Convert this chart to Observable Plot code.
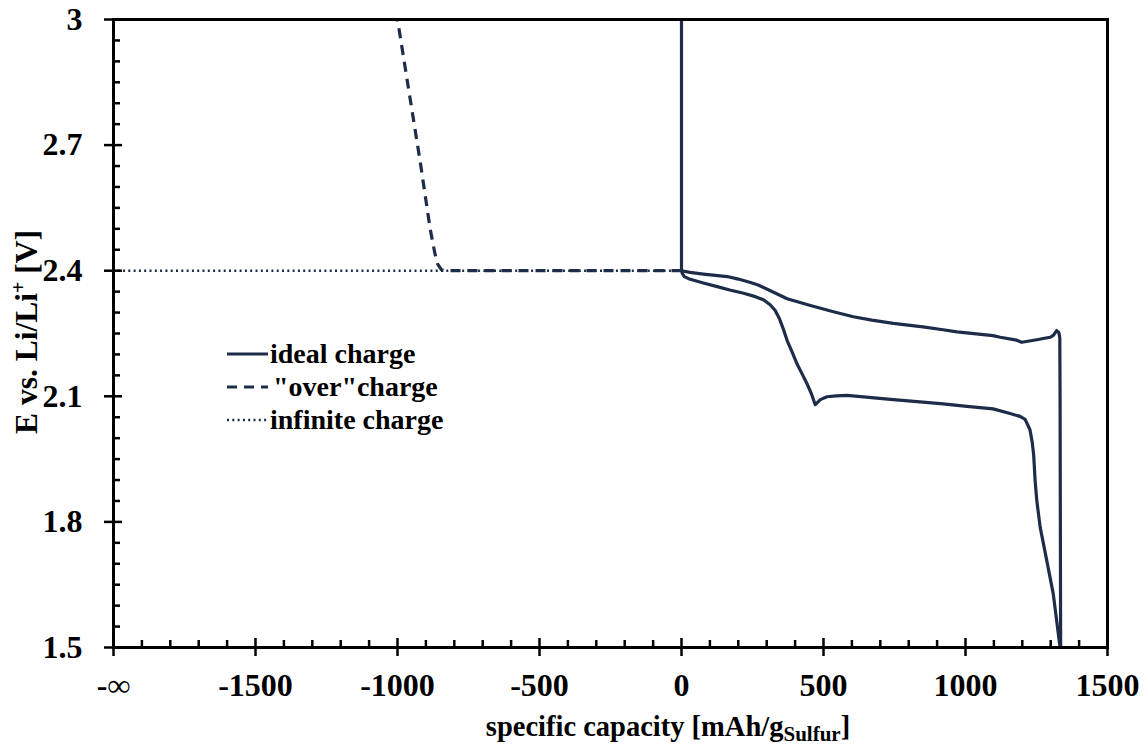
<!DOCTYPE html>
<html>
<head>
<meta charset="utf-8">
<script src="https://cdn.jsdelivr.net/npm/d3@7"></script>
<script src="https://cdn.jsdelivr.net/npm/@observablehq/plot@0.6"></script>
<style>
  html, body { margin: 0; padding: 0; background: #fff; }
  #chart { width: 1148px; height: 746px; }
  #chart svg text { font-family: "Liberation Serif", "Times New Roman", serif !important; font-weight: bold !important; }
</style>
</head>
<body>
<div id="chart"></div>
<script>
// Li–S cell: one discharge/charge cycle and two hypothetical charge continuations.

// discharge branch of the measured cycle (capacity in mAh/g_S, potential in V)
const dischargeCap = [0, 3, 10, 25, 43, 80, 126, 170, 219, 260, 290, 313, 330, 345, 360, 372, 390, 407, 425, 442, 458, 471, 480, 489, 512, 545, 583, 650, 746, 850, 921, 1005, 1097, 1157, 1192, 1210, 1227, 1235, 1240, 1245, 1251, 1263, 1286, 1309, 1333];
const dischargeE   = [2.400, 2.393, 2.386, 2.381, 2.377, 2.370, 2.362, 2.354, 2.346, 2.338, 2.330, 2.318, 2.305, 2.285, 2.258, 2.233, 2.205, 2.177, 2.153, 2.130, 2.105, 2.080, 2.086, 2.092, 2.099, 2.101, 2.102, 2.098, 2.092, 2.086, 2.082, 2.076, 2.070, 2.059, 2.052, 2.045, 2.020, 1.990, 1.960, 1.900, 1.851, 1.787, 1.708, 1.628, 1.500];

// charge branch, running back from full discharge to zero capacity and up to 3 V
const chargeCap = [1335, 1334, 1333, 1332, 1329, 1321, 1310, 1298, 1274, 1251, 1225, 1198, 1180, 1122, 1097, 970, 921, 850, 746, 670, 605, 535, 454, 372, 313, 270, 243, 200, 161, 77, 30, 0, 0];
const chargeE   = [1.500, 1.800, 2.100, 2.240, 2.252, 2.257, 2.246, 2.241, 2.238, 2.235, 2.232, 2.229, 2.234, 2.241, 2.245, 2.254, 2.259, 2.266, 2.274, 2.282, 2.290, 2.302, 2.317, 2.333, 2.352, 2.366, 2.372, 2.380, 2.386, 2.392, 2.396, 2.400, 3.000];

// "over"charge: the 2.4 V plateau continues past zero, then the potential rises to 3 V
const overCap = [0, -820, -845, -858, -868, -885, -920, -960, -1000];
const overE   = [2.400, 2.400, 2.402, 2.415, 2.440, 2.500, 2.660, 2.830, 3.000];

// infinite charge: the plateau never ends
const infiniteCap = [0, -2000];
const infiniteE   = [2.400, 2.400];

// axes
const xMajor = [-2000, -1500, -1000, -500, 0, 500, 1000, 1500];
const xLabels = ["-∞", "-1500", "-1000", "-500", "0", "500", "1000", "1500"];
const yMajor = [1.5, 1.8, 2.1, 2.4, 2.7, 3];
const yLabels = ["1.5", "1.8", "2.1", "2.4", "2.7", "3"];
const xMinor = d3.range(-2000, 1501, 100).filter(v => !xMajor.includes(v));
const yMinor = d3.range(0, 31).map(i => 1.5 + i * 0.05).filter(v => !yMajor.some(m => Math.abs(m - v) < 1e-9));

const legendItems = ["ideal charge", "\"over\"charge", "infinite charge"];

const ink = "#1d2c49";
const toRows = (xs, ys) => xs.map((x, i) => ({x, y: ys[i]}));
const ideal = toRows(dischargeCap, dischargeE).concat(toRows(chargeCap, chargeE));
const over = toRows(overCap, overE);
const infinite = toRows(infiniteCap, infiniteE);

const W = 1148, H = 746;
const mL = 113, mR = 41, mT = 19, mB = 99;
const fw = W - mL - mR, fh = H - mT - mB;
const major = 9, minor = 7;
const xLabelOf = new Map(xMajor.map((v, i) => [v, xLabels[i]]));
const yLabelOf = new Map(yMajor.map((v, i) => [v, yLabels[i]]));

const plot = Plot.plot({
  width: W,
  height: H,
  marginLeft: mL,
  marginRight: mR,
  marginTop: mT,
  marginBottom: mB,
  style: {fontFamily: "Liberation Serif", fontWeight: "bold", fontSize: "32px", background: "#fff", color: "#000", overflow: "visible"},
  x: {domain: [-2000, 1500]},
  y: {domain: [1.5, 3]},
  marks: [
    Plot.line(infinite, {x: "x", y: "y", stroke: ink, strokeWidth: 2.4, strokeDasharray: "2,3.3", strokeLinecap: "butt"}),
    Plot.line(over, {x: "x", y: "y", stroke: ink, strokeWidth: 3.2, strokeDasharray: "10,7", strokeLinecap: "butt"}),
    Plot.line(ideal, {x: "x", y: "y", stroke: ink, strokeWidth: 3.2, strokeLinejoin: "round"}),
    // inward minor ticks and crossing major ticks
    Plot.tickX(xMinor, {x: d => d, insetTop: fh - minor, stroke: "#000", strokeWidth: 2.5}),
    Plot.tickX(xMajor, {x: d => d, insetTop: fh - major, insetBottom: -major, stroke: "#000", strokeWidth: 2.5}),
    Plot.tickY(yMinor, {y: d => d, insetRight: fw - minor, stroke: "#000", strokeWidth: 2.5}),
    Plot.tickY(yMajor, {y: d => d, insetRight: fw - major, insetLeft: -major, stroke: "#000", strokeWidth: 2.5}),
    Plot.frame({stroke: "#000", strokeWidth: 3}),
    Plot.axisX(xMajor, {tickSize: 0, tickPadding: 26, tickFormat: d => xLabelOf.get(d), label: null, fontSize: 32}),
    Plot.axisY(yMajor, {tickSize: 0, tickPadding: 31, tickFormat: d => yLabelOf.get(d), label: null, fontSize: 32})
  ]
});

document.getElementById("chart").appendChild(plot);

// axis titles with sub/superscripts
const svg = d3.select(plot);
const xt = svg.append("text")
  .attr("x", 668).attr("y", 736)
  .attr("text-anchor", "middle")
  .attr("font-size", 28.5).attr("fill", "#000");
xt.append("tspan").text("specific capacity [mAh/g");
xt.append("tspan").attr("font-size", 21).attr("dy", 5).text("Sulfur");
xt.append("tspan").attr("dy", -5).text("]");

const yt = svg.append("text")
  .attr("transform", `translate(37,332) rotate(-90)`)
  .attr("text-anchor", "middle")
  .attr("font-size", 31.5).attr("fill", "#000");
yt.append("tspan").text("E vs. Li/Li");
yt.append("tspan").attr("font-size", 20).attr("dy", -12).text("+");
yt.append("tspan").attr("dy", 12).text(" [V]");

// legend
const lg = svg.append("g").attr("font-size", 28).attr("text-anchor", "start");
const sampleDash = [null, "10,7", "2,3.3"];
const sampleWidth = [3.2, 3.2, 2.4];
legendItems.forEach((label, i) => {
  const cy = 354 + i * 33;
  lg.append("line")
    .attr("x1", 227).attr("x2", 268).attr("y1", cy).attr("y2", cy)
    .attr("stroke", ink).attr("stroke-width", sampleWidth[i])
    .attr("stroke-dasharray", sampleDash[i]);
  lg.append("text").attr("x", i === 1 ? 273 : 270).attr("y", cy).attr("dy", "0.32em")
    .attr("fill", "#000").text(label);
});
</script>
</body>
</html>
